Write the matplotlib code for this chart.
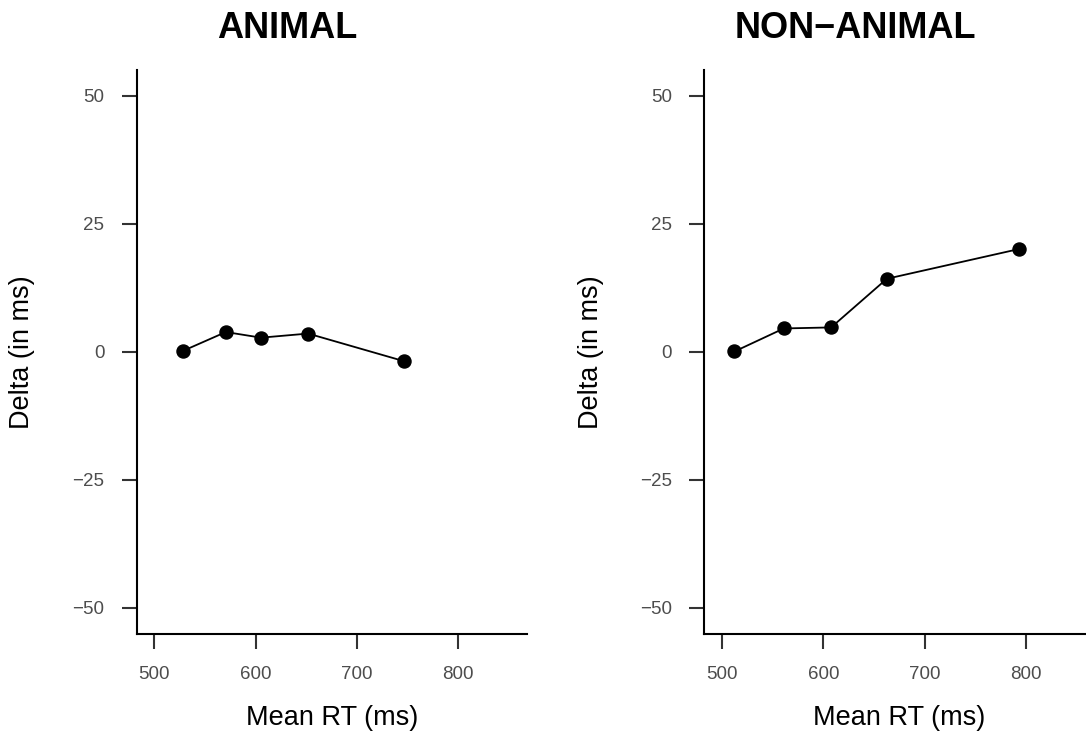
import matplotlib
matplotlib.use('Agg')
import matplotlib.pyplot as plt

animal_rt = [528.0, 570.5, 605.3, 651.7, 746.5]
animal_delta = [0.2, 3.9, 2.8, 3.6, -1.8]
nonanimal_rt = [512.3, 561.0, 607.7, 662.7, 792.9]
nonanimal_delta = [0.1, 4.6, 4.8, 14.3, 20.1]
titles = ['ANIMAL', 'NON\u2212ANIMAL']
xticks = [500, 600, 700, 800]
yticks = [-50, -25, 0, 25, 50]

W, H = 1086, 747
plt.rc('font', family=['Liberation Sans', 'DejaVu Sans'])

fig = plt.figure(figsize=(W / 100, H / 100), dpi=100)

def px(x, y):
  return x / W, 1 - y / H

panels = [
  (136.7, animal_rt, animal_delta, titles[0], 287, 22.5),
  (704.3, nonanimal_rt, nonanimal_delta, titles[1], 855, 591),
]

for x0, xs, ys, title, tx, lx in panels:
  ax = fig.add_axes([x0 / W, (H - 633.6) / H, 390 / W, 563.2 / H])
  ax.plot(xs, ys, color='black', lw=1.3, marker='o', ms=9.4, clip_on=False)
  ax.set_xlim(482.5, 867.5)
  ax.set_ylim(-55, 55)
  ax.set_xticks(xticks)
  ax.set_yticks(yticks)
  ax.set_yticklabels([str(v).replace('-', '\u2212') for v in yticks])
  for s in ['top', 'right']:
    ax.spines[s].set_visible(False)
  for s in ['left', 'bottom']:
    ax.spines[s].set_linewidth(1.5)
    ax.spines[s].set_color('black')
  ax.tick_params(axis='both', length=10.8, width=1.5, color='#333333',
                 labelsize=13.5, labelcolor='#4D4D4D', pad=12.5)
  fx, fy = px(tx, 28)
  fig.text(fx, fy, title, ha='center', va='center', fontsize=26, fontweight='bold')
  fx, fy = px(x0 + 195, 718)
  fig.text(fx, fy, 'Mean RT (ms)', ha='center', va='center', fontsize=19.5)
  fx, fy = px(lx, 352)
  fig.text(fx, fy, 'Delta (in ms)', ha='center', va='center', fontsize=19.5, rotation=90)

fig.savefig('out.png', dpi=100)
